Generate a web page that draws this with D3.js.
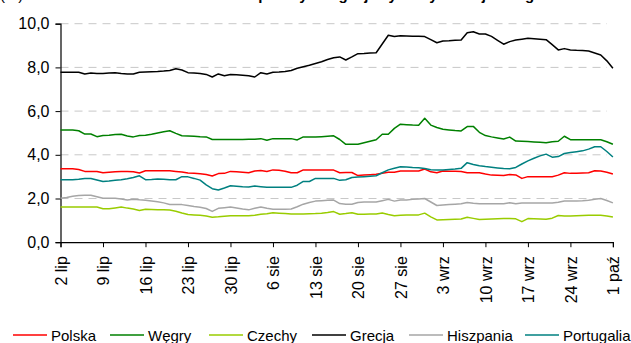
<!DOCTYPE html>
<html><head><meta charset="utf-8">
<script src="https://cdn.jsdelivr.net/npm/d3@7"></script>
<style>
body{margin:0;background:#fff;}
svg{display:block;font-family:"Liberation Sans",Arial,sans-serif;}
</style>
</head><body>
<svg id="chart" width="631" height="343"></svg>
<script>
// ---- data (daily values, 2 lip – 1 paź) ----
const startDay = [2012, 6, 2];
const endDay = [2012, 9, 1];
const seriesNames = ["Polska", "Węgry", "Czechy", "Grecja", "Hiszpania", "Portugalia"];
const seriesColors = ["#ff0000", "#008000", "#99cc00", "#000000", "#a6a6a6", "#008080"];
const yTicks = [0, 2, 4, 6, 8, 10];
const xTickLabels = ["2 lip","9 lip","16 lip","23 lip","30 lip","6 sie","13 sie","20 sie","27 sie","3 wrz","10 wrz","17 wrz","24 wrz","1 paź"];

const polska = [3.36,3.36,3.36,3.33,3.24,3.24,3.24,3.18,3.20,3.22,3.24,3.24,3.22,3.17,3.27,3.27,3.27,3.27,3.27,3.24,
  3.21,3.17,3.15,3.13,3.10,3.03,3.14,3.15,3.24,3.22,3.20,3.18,3.26,3.28,3.24,3.31,3.29,3.25,3.18,3.18,
  3.31,3.31,3.31,3.31,3.31,3.30,3.18,3.19,3.19,3.05,3.07,3.09,3.11,3.16,3.20,3.20,3.26,3.26,3.26,3.26,
  3.35,3.22,3.18,3.26,3.25,3.25,3.24,3.18,3.18,3.18,3.12,3.07,3.06,3.05,3.10,3.08,2.92,3.00,3.00,3.00,
  3.00,3.00,3.07,3.18,3.15,3.16,3.17,3.18,3.27,3.26,3.20,3.12];
const wegry = [5.14,5.14,5.14,5.10,4.95,4.95,4.83,4.88,4.90,4.93,4.94,4.86,4.82,4.88,4.89,4.94,5.00,5.05,5.10,4.98,
  4.87,4.86,4.85,4.83,4.82,4.70,4.70,4.70,4.70,4.70,4.70,4.71,4.71,4.74,4.67,4.74,4.74,4.74,4.74,4.68,
  4.82,4.81,4.81,4.83,4.85,4.87,4.70,4.48,4.48,4.48,4.55,4.62,4.69,4.94,4.94,5.21,5.40,5.38,5.36,5.35,
  5.67,5.36,5.25,5.17,5.14,5.11,5.09,5.29,5.30,5.03,4.88,4.82,4.77,4.72,4.81,4.63,4.62,4.61,4.59,4.57,
  4.55,4.60,4.62,4.85,4.69,4.69,4.69,4.69,4.69,4.69,4.60,4.48];
const czechy = [1.61,1.61,1.61,1.61,1.61,1.61,1.61,1.53,1.53,1.57,1.61,1.56,1.52,1.45,1.51,1.50,1.49,1.48,1.47,1.42,
  1.34,1.27,1.25,1.23,1.20,1.14,1.16,1.19,1.21,1.21,1.21,1.21,1.23,1.28,1.30,1.35,1.33,1.31,1.29,1.29,
  1.29,1.30,1.31,1.33,1.36,1.40,1.28,1.31,1.35,1.28,1.28,1.29,1.29,1.34,1.27,1.21,1.23,1.24,1.25,1.25,
  1.33,1.16,1.02,1.03,1.04,1.05,1.06,1.14,1.09,1.04,1.05,1.06,1.07,1.08,1.09,1.07,0.94,1.08,1.07,1.06,
  1.05,1.10,1.22,1.20,1.20,1.21,1.22,1.23,1.23,1.23,1.20,1.15];
const grecja = [7.78,7.78,7.78,7.78,7.70,7.74,7.72,7.72,7.74,7.75,7.72,7.70,7.70,7.78,7.79,7.80,7.81,7.83,7.86,7.94,
  7.88,7.76,7.74,7.72,7.68,7.56,7.70,7.62,7.68,7.66,7.64,7.62,7.56,7.76,7.70,7.78,7.79,7.81,7.86,7.96,
  8.03,8.10,8.18,8.26,8.36,8.44,8.48,8.34,8.48,8.63,8.64,8.66,8.67,9.07,9.47,9.41,9.45,9.44,9.43,9.42,
  9.41,9.27,9.13,9.21,9.22,9.24,9.25,9.59,9.63,9.53,9.53,9.42,9.24,9.06,9.18,9.25,9.29,9.33,9.31,9.29,
  9.27,9.04,8.80,8.86,8.80,8.78,8.77,8.75,8.66,8.57,8.30,7.96];
const hiszpania = [2.01,2.05,2.10,2.14,2.15,2.15,2.08,2.01,2.01,2.01,1.98,1.93,1.97,1.94,1.92,1.89,1.85,1.80,1.73,1.73,
  1.72,1.68,1.63,1.60,1.54,1.41,1.55,1.58,1.61,1.57,1.52,1.48,1.55,1.61,1.55,1.51,1.51,1.51,1.52,1.62,
  1.74,1.82,1.88,1.90,1.92,1.93,1.77,1.74,1.74,1.82,1.84,1.84,1.84,1.90,1.96,1.88,1.93,1.93,1.96,1.98,
  2.00,1.84,1.68,1.70,1.72,1.74,1.76,1.82,1.78,1.76,1.76,1.76,1.76,1.76,1.81,1.76,1.79,1.79,1.79,1.79,
  1.79,1.79,1.83,1.89,1.89,1.89,1.90,1.92,1.96,2.00,1.91,1.80];
const portugalia = [2.86,2.86,2.86,2.88,2.92,2.92,2.85,2.78,2.80,2.83,2.86,2.90,2.96,3.04,2.86,2.87,2.89,2.88,2.86,2.86,
  3.00,2.99,2.92,2.84,2.62,2.45,2.39,2.48,2.58,2.56,2.54,2.53,2.57,2.54,2.51,2.51,2.51,2.51,2.51,2.61,
  2.78,2.78,2.92,2.92,2.92,2.92,2.83,2.86,2.96,2.98,3.00,3.02,3.04,3.18,3.31,3.38,3.45,3.44,3.42,3.41,
  3.37,3.32,3.30,3.31,3.33,3.35,3.38,3.64,3.56,3.50,3.46,3.43,3.40,3.37,3.36,3.42,3.58,3.72,3.84,3.95,
  4.03,3.89,3.92,4.06,4.10,4.14,4.18,4.26,4.37,4.37,4.15,3.90];

const seriesValues = [polska, wegry, czechy, grecja, hiszpania, portugalia];

// ---- chart ----
const svg = d3.select("#chart");
const t0 = new Date(...startDay), t1 = new Date(...endDay);
const dates = polska.map((_, i) => d3.timeDay.offset(t0, i));

const x = d3.scaleTime().domain([t0, t1]).range([60.5, 612.9]);
const y = d3.scaleLinear().domain([0, 10]).range([242.2, 23.7]);

svg.append("rect").attr("width", 631).attr("height", 343).attr("fill", "#fff");

// partially visible title (cut off at top in the original)
svg.append("text").attr("x", 0).attr("y", 0).attr("font-size", 15).attr("fill", "#000").text("(%)");
svg.append("text").attr("x", 140).attr("y", -0.5).attr("font-size", 15).attr("font-weight", "bold")
  .attr("fill", "#000").text("Rentowności – spready obligacji wybranych krajów regionu");

// gridlines
svg.append("g").selectAll("line").data(yTicks.filter(d => d > 0)).join("line")
  .attr("x1", x.range()[0]).attr("x2", 607)
  .attr("y1", d => y(d)).attr("y2", d => y(d))
  .attr("stroke", "#c8c8c8").attr("stroke-width", 1).attr("stroke-dasharray", "8,6");

// axes
const yAxis = d3.axisLeft(y).tickValues(yTicks).tickSize(5).tickPadding(6)
  .tickFormat(d => d3.format(".1f")(d).replace(".", ","));
const gy = svg.append("g").attr("transform", `translate(${x.range()[0]},0)`).call(yAxis);
gy.select(".domain").attr("stroke", "#000").attr("stroke-width", 1.2);
gy.selectAll(".tick line").attr("stroke", "#000");
gy.selectAll(".tick text").attr("font-size", 16).attr("fill", "#000")
  .attr("font-family", "'Liberation Sans', Arial, sans-serif");

const xTickDates = xTickLabels.map((_, i) => d3.timeDay.offset(t0, 7 * i));
const xAxis = d3.axisBottom(x).tickValues(xTickDates).tickSize(5)
  .tickFormat((d, i) => xTickLabels[i]);
const gx = svg.append("g").attr("transform", `translate(0,${y(0)})`).call(xAxis);
gx.select(".domain").attr("stroke", "#000").attr("stroke-width", 1.2);
gx.selectAll(".tick line").attr("stroke", "#000");
gx.selectAll(".tick text").attr("font-size", 16).attr("fill", "#000")
  .attr("font-family", "'Liberation Sans', Arial, sans-serif")
  .attr("text-anchor", "end").attr("y", 0).attr("dy", "0.35em")
  .attr("transform", "translate(0,14) rotate(-90)");

// lines
const line = d3.line().x((d, i) => x(dates[i])).y(d => y(d));
svg.append("g").selectAll("path").data(seriesValues).join("path")
  .attr("d", d => line(d)).attr("fill", "none")
  .attr("stroke", (d, i) => seriesColors[i]).attr("stroke-width", 1.5)
  .attr("stroke-linejoin", "round");

// legend
const legendX = [13, 110, 209, 312, 409, 525];
const lg = svg.append("g");
seriesNames.forEach((name, i) => {
  lg.append("line").attr("x1", legendX[i]).attr("x2", legendX[i] + 34)
    .attr("y1", 335).attr("y2", 335).attr("stroke", seriesColors[i]).attr("stroke-width", 1.5);
  lg.append("text").attr("x", legendX[i] + 38).attr("y", 341).attr("font-size", 15)
    .attr("fill", "#000").text(name);
});
</script>
</body></html>
